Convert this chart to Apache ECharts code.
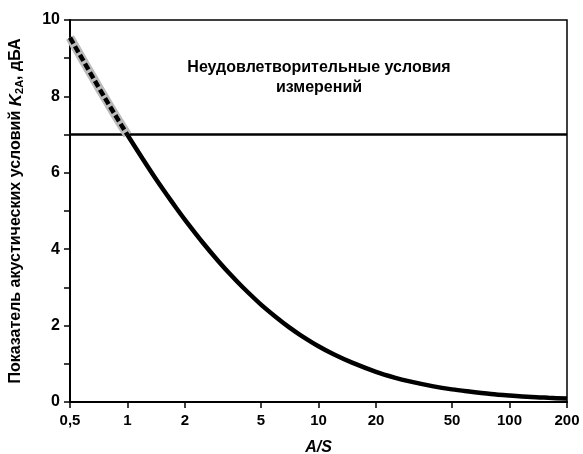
<!DOCTYPE html>
<html><head><meta charset="utf-8">
<script src="https://cdn.jsdelivr.net/npm/echarts@6/dist/echarts.min.js"></script>
<style>html,body{margin:0;padding:0;background:#fff}#c{width:583px;height:454px}</style>
</head><body><div id="c"></div>
<script>
const dashedX = [0.5, 0.6, 0.7, 0.8, 0.9, 1];
const dashedY = [9.54, 8.85, 8.27, 7.78, 7.36, 6.99];
const solidX = [1, 1.2, 1.4, 1.6, 1.8, 2, 2.5, 3, 3.5, 4, 5, 6, 7, 8, 10, 12, 15, 20, 25, 30, 40, 50, 60, 80, 100, 130, 160, 200];
const solidY = [6.99, 6.37, 5.86, 5.44, 5.08, 4.77, 4.15, 3.68, 3.31, 3.01, 2.55, 2.22, 1.96, 1.76, 1.46, 1.25, 1.03, 0.79, 0.64, 0.54, 0.41, 0.33, 0.28, 0.21, 0.17, 0.13, 0.11, 0.09];
const limitX = [0.5, 200];
const limitY = [7, 7];
const xTicks = [0.5, 1, 2, 5, 10, 20, 50, 100, 200];
const yLabels = ['0', '2', '4', '6', '8', '10'];
const noteLines = ['Неудовлетворительные условия', 'измерений'];
const xName = 'A/S';

const zip = (a, b) => a.map((v, i) => [v, b[i]]);
const font = '"Liberation Sans", Arial, sans-serif';
const chart = echarts.init(document.getElementById('c'), null, {renderer: 'canvas'});
chart.setOption({
  animation: false,
  grid: {left: 70, right: 16, top: 20, bottom: 52, containLabel: false, outerBoundsMode: 'none',
    show: true, borderColor: '#000', borderWidth: 1.5},
  xAxis: {
    type: 'log', min: 0.5, max: 200,
    name: xName, nameLocation: 'middle', nameGap: 38,
    nameTextStyle: {fontFamily: font, fontWeight: 'bold', fontStyle: 'italic', fontSize: 16, color: '#000'},
    axisLine: {show: true, lineStyle: {color: '#000', width: 2}},
    axisTick: {show: true, length: 6, inside: false, customValues: xTicks, lineStyle: {color: '#000', width: 1.5}},
    minorTick: {show: false},
    axisLabel: {customValues: xTicks, fontFamily: font, fontWeight: 'bold', fontSize: 15, color: '#000', margin: 11,
      formatter: v => String(v).replace('.', ',')},
    splitLine: {show: false}, minorSplitLine: {show: false}
  },
  yAxis: {
    type: 'value', min: 0, max: 10, interval: 1,
    name: '{n|Показатель акустических условий }{k|K}{s|2A}{n|, дБА}',
    nameLocation: 'middle', nameGap: 45, nameRotate: 90,
    nameTextStyle: {
      color: '#000',
      rich: {
        n: {fontFamily: font, fontWeight: 'bold', fontSize: 16, color: '#000'},
        k: {fontFamily: font, fontWeight: 'bold', fontStyle: 'italic', fontSize: 17, color: '#000'},
        s: {fontFamily: font, fontWeight: 'bold', fontSize: 11, color: '#000', verticalAlign: 'bottom', padding: [7, 0, 0, 0]}
      }
    },
    axisLine: {show: true, lineStyle: {color: '#000', width: 2}},
    axisTick: {show: true, length: 6, lineStyle: {color: '#000', width: 1.5}},
    axisLabel: {fontFamily: font, fontWeight: 'bold', fontSize: 16, color: '#000', margin: 10,
      formatter: v => (yLabels.indexOf(String(v)) >= 0 ? String(v) : '')},
    splitLine: {show: false}
  },
  series: [
    {type: 'line', data: zip(limitX, limitY), symbol: 'none', lineStyle: {color: '#000', width: 2.5}, z: 2},
    {type: 'line', data: zip(dashedX, dashedY), symbol: 'none', lineStyle: {color: '#bbb', width: 9}, z: 3},
    {type: 'line', data: zip(dashedX, dashedY), symbol: 'none', lineStyle: {color: '#000', width: 4.5, type: [7, 3]}, z: 4},
    {type: 'line', data: zip(solidX, solidY), symbol: 'none', smooth: 0.3, lineStyle: {color: '#000', width: 4.5}, z: 4}
  ],
  graphic: [{
    type: 'text', x: 319, y: 58,
    style: {text: noteLines.join('\n'), textAlign: 'center', fontFamily: font, fontWeight: 'bold',
      fontSize: 16, lineHeight: 20, fill: '#000'}
  }]
});
</script></body></html>
